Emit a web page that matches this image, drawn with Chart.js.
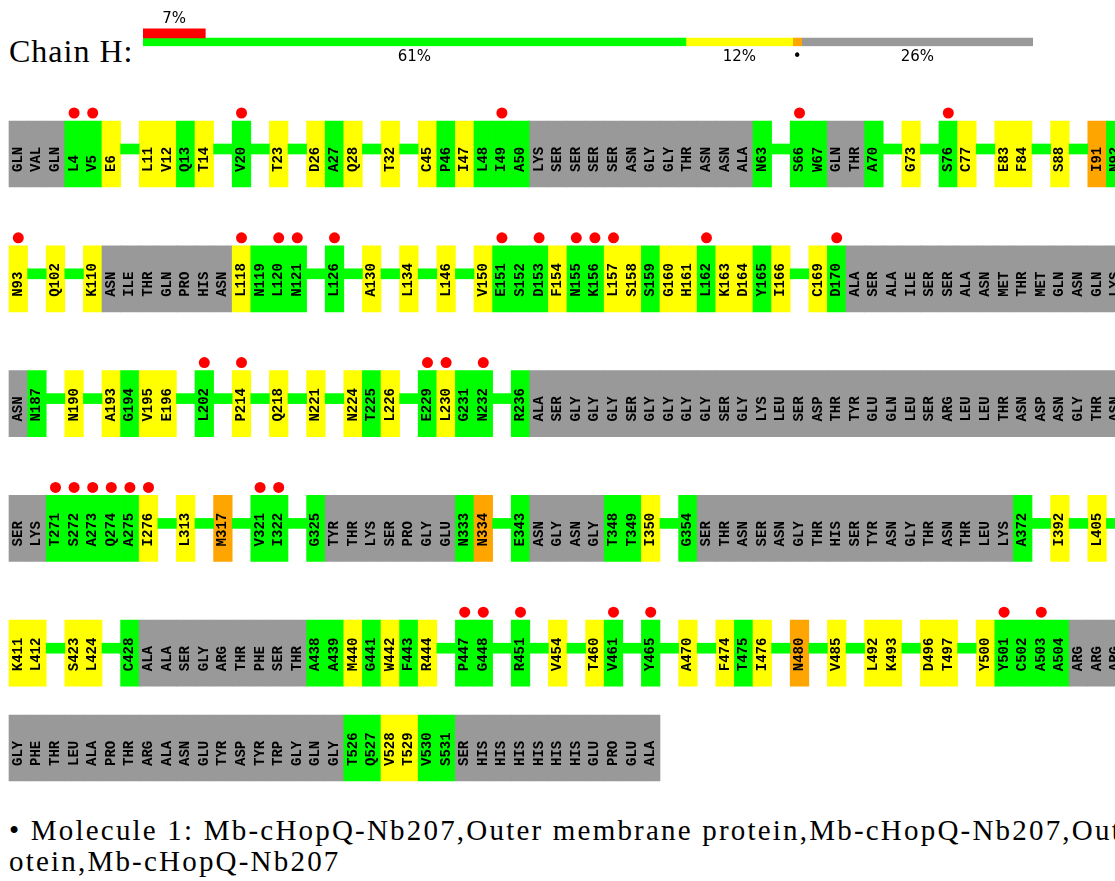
<!DOCTYPE html>
<html>
<head>
<meta charset="utf-8">
<script src="https://cdn.jsdelivr.net/npm/chart.js@4.4.0/dist/chart.umd.min.js"></script>
<style>
    html, body { margin: 0; padding: 0; background: #fff; width: 1115px; height: 881px; overflow: hidden; }
    #resumo { position: absolute; left: 0; top: 0; }
    #grade { position: absolute; left: 0; top: 95px; }
    #titulo { position: absolute; left: 9px; top: 35px; font-family: "Liberation Serif"; font-size: 32px; line-height: 32px; letter-spacing: 1px; white-space: nowrap; }
    #molecula { position: absolute; left: 9px; top: 815px; font-family: "Liberation Serif"; font-size: 29px; line-height: 31px; letter-spacing: 2.2px; white-space: pre; }
</style>
</head>
<body>
<div id="titulo">Chain H:</div>
<canvas id="resumo" width="1115" height="75"></canvas>
<canvas id="grade" width="1115" height="700"></canvas>
<div id="molecula">• Molecule 1: Mb-cHopQ-Nb207,Outer membrane protein,Mb-cHopQ-Nb207,Outer membrane pr
otein,Mb-cHopQ-Nb207</div>
<script>
// resumo da cadeia (percentuais)
const resumoOutliers = 7;
const resumoSegmentos = [61, 12, 1, 26];
const resumoTextos = ['61%', '12%', '•', '26%'];
const resumoCores = ['#00ff00', '#ffff00', '#ffa500', '#999999'];

// linhas de residuos: '-' = trecho sem residuo rotulado (linha verde)
// qualidade: g = sem outlier, y = 1 criterio, o = 2 criterios, x = nao modelado
const linha1Rotulos = 'GLN VAL GLN L4 V5 E6 - L11 V12 Q13 T14 - V20 - T23 - D26 A27 Q28 - T32 - C45 P46 I47 L48 I49 A50 LYS SER SER SER SER ASN GLY GLY THR ASN ASN ALA N63 - S66 W67 GLN THR A70 - G73 - S76 C77 - E83 F84 - S88 - I91 N92'.split(' ');
const linha1Qualidade = 'xxxggy-yygy-g-y-ygy-y-ygygggxxxxxxxxxxxxg-ggxxg-y-gy-yy-y-og'.split('');
const linha1Outliers = ['L4', 'V5', 'V20', 'I49', 'S66', 'S76'];

const linha2Rotulos = 'N93 - Q102 - K110 ASN ILE THR GLN PRO HIS ASN L118 N119 L120 N121 - L126 - A130 - L134 - L146 - V150 E151 S152 D153 F154 N155 K156 L157 S158 S159 G160 H161 L162 K163 D164 Y165 I166 - C169 D170 ALA SER ALA ILE SER SER ALA ASN MET THR MET GLN ASN GLN LYS'.split(' ');
const linha2Qualidade = 'y-y-yxxxxxxxyggg-g-y-y-y-ygggyggyygyygyygy-ygxxxxxxxxxxxxxxx'.split('');
const linha2Outliers = ['N93', 'L118', 'L120', 'N121', 'L126', 'E151', 'D153', 'N155', 'K156', 'L157', 'L162', 'D170'];

const linha3Rotulos = 'ASN N187 - N190 - A193 G194 V195 E196 - L202 - P214 - Q218 - N221 - N224 T225 L226 - E229 L230 G231 N232 - R236 ALA SER GLY GLY GLY SER GLY GLY GLY GLY SER GLY LYS LEU SER ASP THR TYR GLU GLN LEU SER ARG LEU LEU THR ASN ASP ASN GLY THR ASN'.split(' ');
const linha3Qualidade = 'xg-y-ygyy-g-y-y-y-ygy-gygg-gxxxxxxxxxxxxxxxxxxxxxxxxxxxxxxxx'.split('');
const linha3Outliers = ['L202', 'P214', 'E229', 'L230', 'N232'];

const linha4Rotulos = 'SER LYS T271 S272 A273 Q274 A275 I276 - L313 - M317 - V321 I322 - G325 TYR THR LYS SER PRO GLY GLU N333 N334 - E343 ASN GLY ASN GLY T348 T349 I350 - G354 SER THR ASN SER ASN GLY THR HIS SER TYR ASN GLY THR ASN THR LEU LYS A372 - I392 - L405 -'.split(' ');
const linha4Qualidade = 'xxgggggy-y-o-gg-gxxxxxxxgo-gxxxxggy-gxxxxxxxxxxxxxxxxxg-y-y-'.split('');
const linha4Outliers = ['T271', 'S272', 'A273', 'Q274', 'A275', 'I276', 'V321', 'I322'];

const linha5Rotulos = 'K411 L412 - S423 L424 - C428 ALA ALA SER GLY ARG THR PHE SER THR A438 A439 M440 G441 W442 F443 R444 - P447 G448 - R451 - V454 - T460 V461 - Y465 - A470 - F474 T475 I476 - N480 - V485 - L492 K493 - D496 T497 - Y500 Y501 C502 A503 A504 ARG ARG ARG'.split(' ');
const linha5Qualidade = 'yy-yy-gxxxxxxxxxggygygy-gg-g-y-yg-g-y-ygy-o-y-yy-yy-yggggxxx'.split('');
const linha5Outliers = ['P447', 'G448', 'R451', 'V461', 'Y465', 'Y501', 'A503'];

const linha6Rotulos = 'GLY PHE THR LEU ALA PRO THR ARG ALA ASN GLU TYR ASP TYR TRP GLY GLN GLY T526 Q527 V528 T529 V530 S531 SER HIS HIS HIS HIS HIS HIS GLU PRO GLU ALA'.split(' ');
const linha6Qualidade = 'xxxxxxxxxxxxxxxxxxggyyggxxxxxxxxxxx'.split('');
const linha6Outliers = [];

const linhas = [
    { rotulos: linha1Rotulos, qualidade: linha1Qualidade, outliers: linha1Outliers },
    { rotulos: linha2Rotulos, qualidade: linha2Qualidade, outliers: linha2Outliers },
    { rotulos: linha3Rotulos, qualidade: linha3Qualidade, outliers: linha3Outliers },
    { rotulos: linha4Rotulos, qualidade: linha4Qualidade, outliers: linha4Outliers },
    { rotulos: linha5Rotulos, qualidade: linha5Qualidade, outliers: linha5Outliers },
    { rotulos: linha6Rotulos, qualidade: linha6Qualidade, outliers: linha6Outliers }
];

const coresQualidade = { g: '#00ff00', y: '#ffff00', o: '#ffa500', x: '#999999' };

// geometria (px)
const SLOT_PX = 18.6;
const PASSO_PX = 124.8;
const ALTURA_CAIXA = 66;
const FAIXA_PONTOS = 30;

// ---------- grafico de resumo ----------
const textoResumoPlugin = {
    id: 'textoResumo',
    afterDatasetsDraw(chart) {
        const ctx = chart.ctx;
        ctx.save();
        ctx.font = '15px "DejaVu Sans"';
        ctx.fillStyle = '#000';
        ctx.textAlign = 'center';
        ctx.textBaseline = 'middle';
        const red = chart.getDatasetMeta(0).data[0];
        ctx.fillText(resumoOutliers + '%', (red.x + red.base) / 2, red.y - 14);
        resumoTextos.forEach((t, i) => {
            const el = chart.getDatasetMeta(i + 1).data[1];
            ctx.fillText(t, (el.x + el.base) / 2, el.y + 15);
        });
        ctx.restore();
    }
};

new Chart(document.getElementById('resumo').getContext('2d'), {
    type: 'bar',
    data: {
        labels: ['outliers', 'qualidade'],
        datasets: [
            { data: [resumoOutliers, null], backgroundColor: '#ff0000', barThickness: 10 },
            ...resumoSegmentos.map((v, i) => ({ data: [null, v], backgroundColor: resumoCores[i], barThickness: 8 }))
        ]
    },
    options: {
        indexAxis: 'y',
        responsive: false,
        animation: false,
        events: [],
        layout: { padding: { left: 143, right: 82, top: 28.5, bottom: 28.5 } },
        scales: {
            x: { stacked: true, min: 0, max: 100, display: false },
            y: { stacked: true, display: false }
        },
        plugins: { legend: { display: false }, tooltip: { enabled: false } }
    },
    plugins: [textoResumoPlugin]
});

// ---------- grade de residuos ----------
const caixas = [], caixasCores = [], caixasRotulos = [];
const trechos = [];
const pontos = [];

let desloc = 0;
linhas.forEach((linha, r) => {
    if (linha.outliers.length === 0) desloc += FAIXA_PONTOS / PASSO_PX;
    const base = r - desloc;
    linha.rotulos.forEach((rot, i) => {
        const q = linha.qualidade[i];
        if (q === '-') {
            trechos.push({ x: i + 0.5, y: [base + 23 / PASSO_PX, base + 33 / PASSO_PX] });
            return;
        }
        caixas.push({ x: i + 0.5, y: [base, base + ALTURA_CAIXA / PASSO_PX] });
        caixasCores.push(coresQualidade[q]);
        caixasRotulos.push(rot);
        if (linha.outliers.includes(rot)) pontos.push({ x: i + 0.5, y: base - 8 / PASSO_PX });
    });
});

const rotulosPlugin = {
    id: 'rotulos',
    afterDatasetsDraw(chart) {
        const ctx = chart.ctx;
        const meta = chart.getDatasetMeta(1);
        ctx.save();
        ctx.font = 'bold 14px "Liberation Mono"';
        ctx.fillStyle = '#000';
        ctx.textAlign = 'left';
        ctx.textBaseline = 'middle';
        meta.data.forEach((bar, i) => {
            const fundo = Math.max(bar.y, bar.base);
            ctx.save();
            ctx.translate(bar.x, fundo - 15);
            ctx.rotate(-Math.PI / 2);
            ctx.fillText(caixasRotulos[i], 0, 0);
            ctx.restore();
        });
        ctx.restore();
    }
};

const yMin = -26 / PASSO_PX;
const xMin = -9 / SLOT_PX;

new Chart(document.getElementById('grade').getContext('2d'), {
    type: 'bar',
    data: {
        datasets: [
            { data: trechos, backgroundColor: '#00ff00', barThickness: SLOT_PX, grouped: false },
            { data: caixas, backgroundColor: caixasCores, barThickness: SLOT_PX, grouped: false },
            { type: 'scatter', data: pontos, pointRadius: 5.5, pointBackgroundColor: '#ff0000', pointBorderWidth: 0 }
        ]
    },
    options: {
        responsive: false,
        animation: false,
        events: [],
        layout: { padding: 0, autoPadding: false },
        scales: {
            x: { type: 'linear', offset: false, min: xMin, max: xMin + 1115 / SLOT_PX, display: false },
            y: { type: 'linear', reverse: true, min: yMin, max: yMin + 700 / PASSO_PX, display: false }
        },
        plugins: { legend: { display: false }, tooltip: { enabled: false } }
    },
    plugins: [rotulosPlugin]
});
</script>
</body>
</html>
